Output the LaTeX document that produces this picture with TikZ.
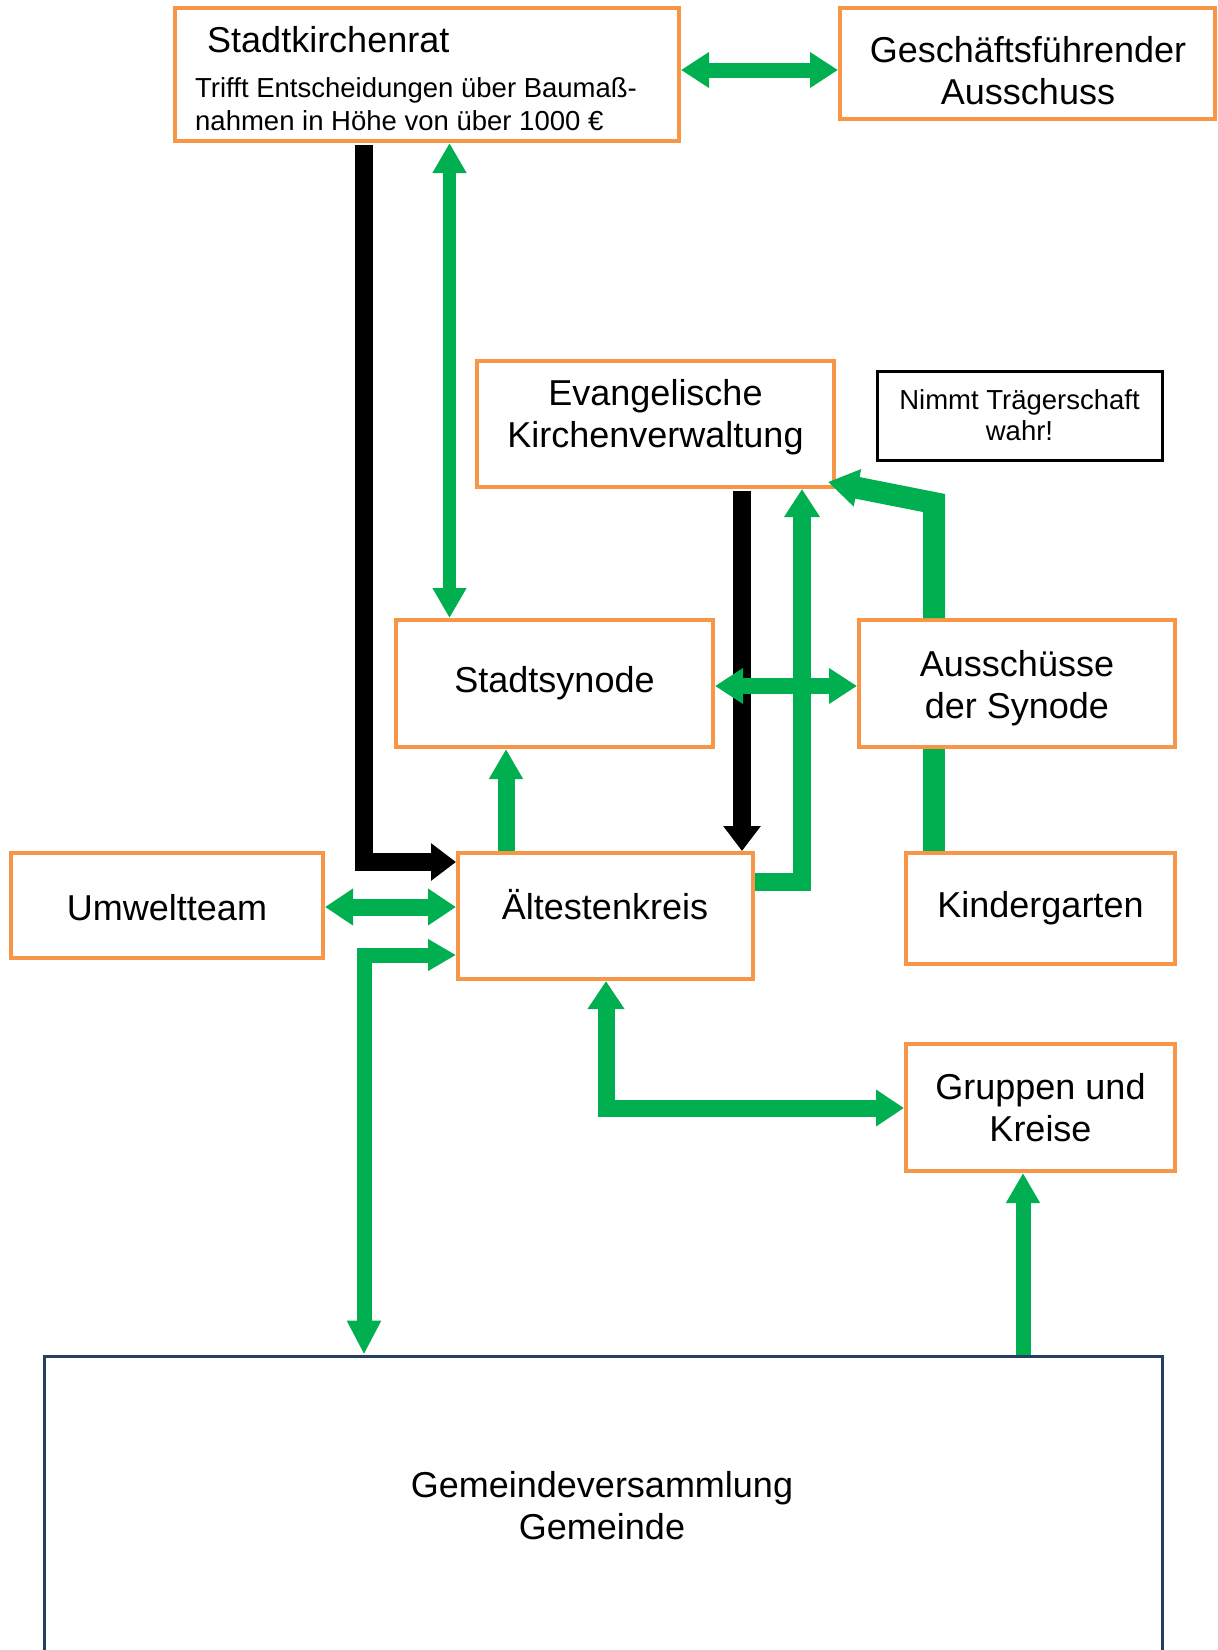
\documentclass[tikz,border=0pt]{standalone}
\usepackage{fontspec}
\setmainfont{Liberation Sans}
\usetikzlibrary{arrows.meta}
\definecolor{boxorange}{HTML}{F79646}
\definecolor{arrgreen}{HTML}{00B050}
\definecolor{navyc}{HTML}{243F60}
\tikzset{
  box/.style={draw=boxorange,line width=4pt,fill=white,inner sep=0pt,align=center,
    font=\fontsize{36}{42}\selectfont},
  bigtxt/.style={inner sep=0pt,align=center,font=\fontsize{36}{42}\selectfont},
  smalltxt/.style={inner sep=0pt,align=left,font=\fontsize{27.5}{33}\selectfont},
  blk/.style={draw=black,line width=18pt,-{Triangle[width=36pt,length=25pt]},shorten <=2pt},
  grn/.style={draw=arrgreen,line width=#1},
  gtip/.style={-{Triangle[width=34pt,length=28pt]}},
  gtips/.style={{Triangle[width=34pt,length=28pt]}-{Triangle[width=34pt,length=28pt]}}
}
\begin{document}
\begin{tikzpicture}[x=1pt,y=-1pt]
\useasboundingbox (0,0) rectangle (1218,1650);
\fill[white] (0,0) rectangle (1218,1650);

% boxes
\node[box,minimum width=504pt,minimum height=133pt] (skr) at (427,74.5) {};
\node[bigtxt,anchor=west] (skrT) at (207,40) {Stadtkirchenrat};
\node[smalltxt,anchor=west] (skrS) at (195,104.5) {Trifft Entscheidungen über Baumaß-\\nahmen in Höhe von über 1000 €};
\node[box,minimum width=375pt,minimum height=111pt] (gfa) at (1027.5,63.5) {};
\node[bigtxt] (gfaT) at (1028,70.5) {Geschäftsführender\\Ausschuss};
\node[box,minimum width=357pt,minimum height=126pt] (ekv) at (655.5,424) {};
\node[bigtxt] (ekvT) at (655.5,417) {Evangelische\\Kirchenverwaltung};
\node[draw=black,line width=3pt,fill=white,inner sep=0pt,align=center,minimum width=285pt,minimum height=89pt,
  font=\fontsize{27.5}{31}\selectfont] (nt) at (1019.5,415.5) {Nimmt Trägerschaft\\wahr!};
\node[box,minimum width=317pt,minimum height=127pt] (ss) at (554.5,683.5) {Stadtsynode};
\node[box,minimum width=316pt,minimum height=127pt] (ads) at (1017,683.5) {};
\node[bigtxt] (adsT) at (1017,688.5) {Ausschüsse\\der Synode};
\node[box,minimum width=312pt,minimum height=105pt] (ut) at (167,905.5) {};
\node[bigtxt] (utT) at (167,908) {Umweltteam};
\node[box,minimum width=295pt,minimum height=126pt] (ak) at (605.5,916) {};
\node[bigtxt] (akT) at (605,905) {Ältestenkreis};
\node[box,minimum width=269pt,minimum height=111pt] (kg) at (1040.5,908.5) {Kindergarten};
\node[box,minimum width=269pt,minimum height=127pt] (guk) at (1040.5,1107.5) {Gruppen und\\Kreise};
\node[draw=navyc,line width=3pt,fill=white,inner sep=0pt,align=center,minimum width=1118pt,minimum height=304pt,
  font=\fontsize{36}{42}\selectfont] (gv) at (603,1508) {};
\node[bigtxt] (gvT) at (602,1506) {Gemeindeversammlung\\Gemeinde};

% lane coordinates
\coordinate (xB1) at (364,0);
\coordinate (yB1) at (0,862);
\coordinate (xB2) at (742,0);
\coordinate (xG3) at (449.5,0);
\coordinate (y1) at (0,70);
\coordinate (x5) at (802,0);
\coordinate (y5) at (0,882);
\coordinate (y6) at (0,686);
\coordinate (x7) at (934,0);
\coordinate (c7) at (934,503);
\coordinate (e7) at (828,482);
\coordinate (x9) at (506,0);
\coordinate (y10) at (0,907);
\coordinate (y11) at (0,955);
\coordinate (x12) at (606,0);
\coordinate (y12) at (0,1108);
\coordinate (x13) at (1023,0);

% black arrows
\draw[blk] (xB1 |- skr.south) |- (ak.west |- yB1);
\draw[blk] (xB2 |- ekv.south) -- (xB2 |- ak.north);

% green arrows
\draw[grn=15pt,gtips] (skr.east |- y1) -- (gfa.west |- y1);
\draw[grn=13pt,{Triangle[width=32pt,length=30pt]}-{Triangle[width=32pt,length=30pt]}] (xG3 |- skr.south) -- (xG3 |- ss.north);
\draw[grn=18pt,gtip] (ak.east |- y5) -| (x5 |- ekv.south);
\draw[grn=16pt,gtips] (ss.east |- y6) -- (ads.west |- y6);
\draw[grn=22pt,-{Triangle[width=36pt,length=30pt]}] (x7 |- ads.north) -- (c7) -- (e7);
\draw[grn=22pt] (x7 |- ads.south) -- (x7 |- kg.north);
\draw[grn=17pt,-{Triangle[width=32pt,length=30pt]}] (x9 |- ak.north) -- (x9 |- ss.south);
\draw[grn=17pt,{Triangle[width=35pt,length=28pt]}-{Triangle[width=35pt,length=28pt]}] (ut.east |- y10) -- (ak.west |- y10);
\draw[grn=15pt,{Triangle[width=32pt,length=34pt]}-{Triangle[width=30pt,length=28pt]}] (xB1 |- gv.north) |- (ak.west |- y11);
\draw[grn=17pt,{Triangle[width=35pt,length=28pt]}-{Triangle[width=35pt,length=28pt]}] (x12 |- ak.south) |- (guk.west |- y12);
\draw[grn=15pt,-{Triangle[width=32pt,length=30pt]}] (x13 |- gv.north) -- (x13 |- guk.south);
\end{tikzpicture}
\end{document}
